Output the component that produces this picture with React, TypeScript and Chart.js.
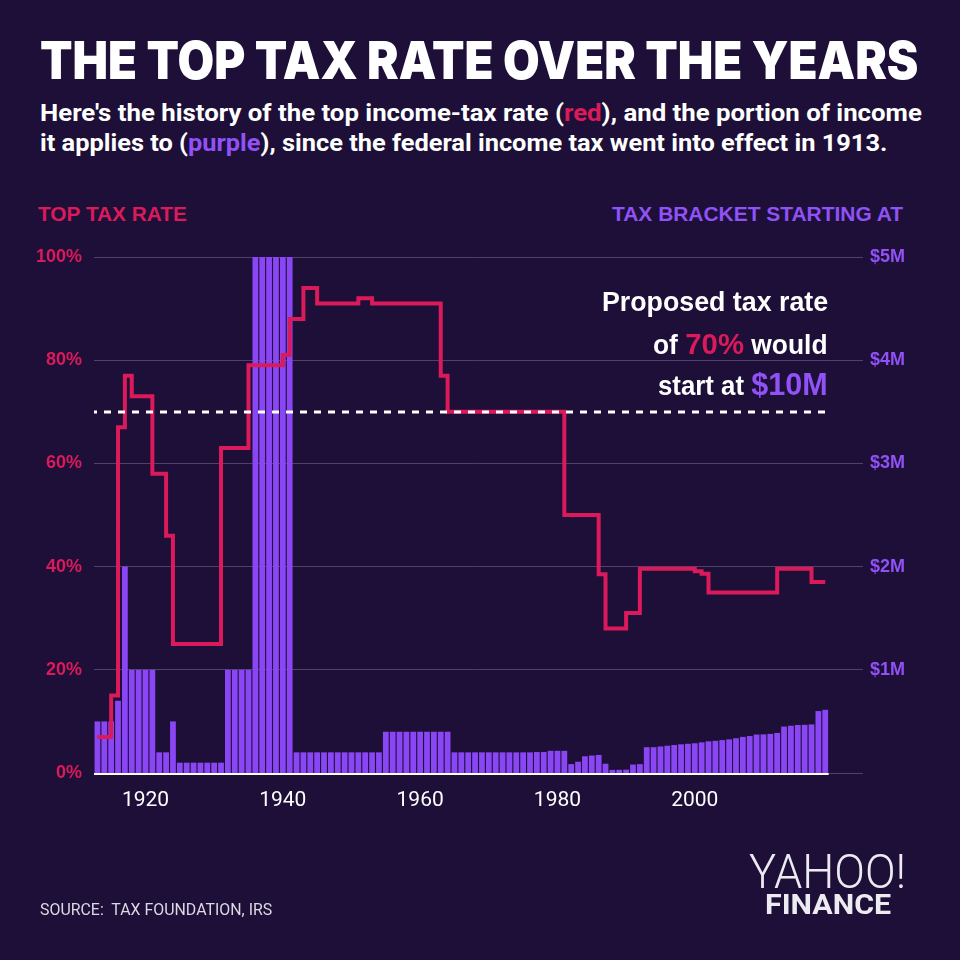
import React, { useEffect, useLayoutEffect, useRef, useState } from 'react';
import { Chart, registerables } from 'chart.js';

Chart.register(...registerables);

// ---------- data ----------
const FIRST_YEAR = 1913;
const AXIS_LAST_YEAR = 2024; // empty room to the right of the last bar

// top marginal income-tax rate, %, 1913 ... 2019
const TOP_RATE = [
  7, 7, 7, 15, 67, 77, 73, 73, 73, 58, // 1913-1922
  58, 46, 25, 25, 25, 25, 25, 25, 25, 63, // 1923-1932
  63, 63, 63, 79, 79, 79, 79, 79, 81, 88, // 1933-1942
  88, 94, 94, 91, 91, 91, 91, 91, 91, 92, // 1943-1952
  92, 91, 91, 91, 91, 91, 91, 91, 91, 91, // 1953-1962
  91, 77, 70, 70, 70, 70, 70, 70, 70, 70, // 1963-1972
  70, 70, 70, 70, 70, 70, 70, 70, 70, 50, // 1973-1982
  50, 50, 50, 50, 38.5, 28, 28, 28, 31, 31, // 1983-1992
  39.6, 39.6, 39.6, 39.6, 39.6, 39.6, 39.6, 39.6, 39.1, 38.6, // 1993-2002
  35, 35, 35, 35, 35, 35, 35, 35, 35, 35, // 2003-2012
  39.6, 39.6, 39.6, 39.6, 39.6, 37, 37, // 2013-2019
];

// income at which the top bracket starts, $ millions, 1913 ... 2019
const BRACKET_START = [
  0.5, 0.5, 0.5, 0.7, 2, 1, 1, 1, 1, 0.2, // 1913-1922
  0.2, 0.5, 0.1, 0.1, 0.1, 0.1, 0.1, 0.1, 0.1, 1, // 1923-1932
  1, 1, 1, 5, 5, 5, 5, 5, 5, 0.2, // 1933-1942
  0.2, 0.2, 0.2, 0.2, 0.2, 0.2, 0.2, 0.2, 0.2, 0.2, // 1943-1952
  0.2, 0.2, 0.4, 0.4, 0.4, 0.4, 0.4, 0.4, 0.4, 0.4, // 1953-1962
  0.4, 0.4, 0.2, 0.2, 0.2, 0.2, 0.2, 0.2, 0.2, 0.2, // 1963-1972
  0.2, 0.2, 0.2, 0.2, 0.203, 0.203, 0.215, 0.215, 0.215, 0.086, // 1973-1982
  0.109, 0.162, 0.169, 0.175, 0.09, 0.03, 0.031, 0.032, 0.082, 0.086, // 1983-1992
  0.25, 0.25, 0.257, 0.264, 0.271, 0.278, 0.283, 0.288, 0.297, 0.307, // 1993-2002
  0.312, 0.319, 0.326, 0.337, 0.35, 0.358, 0.373, 0.374, 0.379, 0.388, // 2003-2012
  0.45, 0.458, 0.465, 0.467, 0.471, 0.6, 0.612, // 2013-2019
];

const YEAR_TICKS = [1920, 1940, 1960, 1980, 2000];
const RATE_MAX = 100;
const RATE_STEP = 20;
const BRACKET_MAX = 5;
const BRACKET_STEP = 1;
const PROPOSED_RATE = 70;

const YEARS: string[] = [];
for (let y = FIRST_YEAR; y <= AXIS_LAST_YEAR; y++) YEARS.push(String(y));

// ---------- style ----------
const BG = '#1d0f37';
const RED = '#db1a5b';
const PURPLE = '#8a46f5';
const PURPLE_TEXT = '#9052f7';
const GRID = '#4f4168';
const WHITE = '#ffffff';

const PAGE = 960;
const PLOT_LEFT = 94;
const PLOT_RIGHT = 863;
const PLOT_TOP = 257;
const PLOT_BOTTOM = 773;

const overlayPlugin = {
  id: 'overlay',
  afterDatasetsDraw(chart: any) {
    const { ctx, scales } = chart;
    const x = scales.x;
    const y = scales.y;
    const half = (x.getPixelForValue(1) - x.getPixelForValue(0)) / 2;
    const left = x.getPixelForValue(0) - half;
    const right = x.getPixelForValue(BRACKET_START.length - 1) + half;
    ctx.save();
    // baseline under the bars
    ctx.strokeStyle = WHITE;
    ctx.lineWidth = 2;
    ctx.beginPath();
    ctx.moveTo(left, y.getPixelForValue(0) + 1);
    ctx.lineTo(right, y.getPixelForValue(0) + 1);
    ctx.stroke();
    // proposed-rate dashed line
    const yy = Math.round(y.getPixelForValue(PROPOSED_RATE));
    ctx.setLineDash([7, 7]);
    ctx.lineDashOffset = 4;
    ctx.lineWidth = 3;
    ctx.beginPath();
    ctx.moveTo(left, yy);
    ctx.lineTo(right, yy);
    ctx.stroke();
    ctx.restore();
  },
};

function ChartCanvas() {
  const ref = useRef<HTMLCanvasElement>(null);
  useEffect(() => {
    if (!ref.current) return;
    const chart = new Chart(ref.current, {
      type: 'bar',
      data: {
        labels: YEARS,
        datasets: [
          {
            type: 'line',
            label: 'Top tax rate',
            data: TOP_RATE,
            yAxisID: 'y',
            borderColor: RED,
            borderWidth: 4,
            stepped: 'after',
            pointRadius: 0,
            fill: false,
            borderJoinStyle: 'miter',
            borderCapStyle: 'butt',
            order: 1,
          } as any,
          {
            type: 'bar',
            label: 'Tax bracket starting at',
            data: BRACKET_START,
            yAxisID: 'y1',
            backgroundColor: PURPLE,
            categoryPercentage: 1,
            barPercentage: 0.84,
            order: 2,
          } as any,
        ],
      },
      options: {
        responsive: false,
        maintainAspectRatio: false,
        animation: false,
        layout: { padding: { top: PLOT_TOP, left: 0, right: 0, bottom: 0 } },
        plugins: { legend: { display: false }, tooltip: { enabled: false } },
        scales: {
          x: {
            grid: { display: false },
            border: { display: false },
            ticks: {
              autoSkip: false,
              maxRotation: 0,
              color: WHITE,
              padding: 7,
              font: { family: 'Roboto', size: 21, weight: 400 },
              callback: (_v: any, i: number) =>
                YEAR_TICKS.includes(Number(YEARS[i])) ? YEARS[i] : '',
            },
            afterFit: (s: any) => {
              s.height = PAGE - PLOT_BOTTOM;
            },
          },
          y: {
            position: 'left',
            min: 0,
            max: RATE_MAX,
            ticks: {
              stepSize: RATE_STEP,
              color: RED,
              padding: 12,
              font: { family: 'Liberation Sans', size: 18, weight: 'bold' },
              callback: (v: any) => `${v}%`,
            },
            grid: { color: GRID, lineWidth: 1, drawTicks: false },
            border: { display: false },
            afterFit: (s: any) => {
              s.width = PLOT_LEFT;
            },
          },
          y1: {
            position: 'right',
            min: 0,
            max: BRACKET_MAX,
            ticks: {
              stepSize: BRACKET_STEP,
              color: PURPLE_TEXT,
              padding: 7,
              font: { family: 'Liberation Sans', size: 18, weight: 'bold' },
              callback: (v: any) => (Number(v) === 0 ? '' : `$${v}M`),
            },
            grid: { display: false, drawTicks: false },
            border: { display: false },
            afterFit: (s: any) => {
              s.width = PAGE - PLOT_RIGHT;
            },
          },
        },
      } as any,
      plugins: [overlayPlugin],
    });
    return () => chart.destroy();
  }, []);
  return (
    <canvas
      ref={ref}
      width={PAGE}
      height={PAGE}
      style={{ position: 'absolute', left: 0, top: 0, width: PAGE, height: PAGE }}
    />
  );
}

// text that is horizontally fitted to a target width
function FitText(props: {
  x: number;
  baseline: number;
  width: number;
  size: number;
  asc: number; // baseline offset factor for line-height 1
  align?: 'left' | 'right';
  style?: React.CSSProperties;
  children: React.ReactNode;
}) {
  const ref = useRef<HTMLDivElement>(null);
  const [scale, setScale] = useState(1);
  useLayoutEffect(() => {
    const measure = () => {
      const el = ref.current;
      if (!el) return;
      const w = el.offsetWidth;
      if (w > 0) setScale(props.width / w);
    };
    measure();
    if ((document as any).fonts && (document as any).fonts.ready) {
      (document as any).fonts.ready.then(measure);
    }
  }, []);
  const align = props.align || 'left';
  const top = props.baseline - props.asc * props.size;
  const pos: React.CSSProperties =
    align === 'left' ? { left: props.x } : { right: PAGE - props.x };
  return (
    <div
      ref={ref}
      style={{
        position: 'absolute',
        top,
        ...pos,
        whiteSpace: 'nowrap',
        fontSize: props.size,
        lineHeight: 1,
        transform: `scaleX(${scale})`,
        transformOrigin: align === 'left' ? 'left top' : 'right top',
        ...props.style,
      }}
    >
      {props.children}
    </div>
  );
}

const ROBOTO = 0.842;
const LIB = 0.847;
const INTER = 0.863;

export default function App() {
  return (
    <div
      style={{
        position: 'absolute',
        left: 0,
        top: 0,
        width: PAGE,
        height: PAGE,
        background: BG,
        overflow: 'hidden',
        color: WHITE,
      }}
    >
      <FitText x={40} baseline={80} width={878} size={52} asc={INTER}
        style={{ fontFamily: 'Inter', fontWeight: 900, color: WHITE }}>
        THE TOP TAX RATE OVER THE YEARS
      </FitText>
      <FitText x={40} baseline={121} width={882} size={24} asc={ROBOTO}
        style={{ fontFamily: 'Roboto', fontWeight: 700, color: WHITE }}>
        Here's the history of the top income-tax rate (<span style={{ color: RED }}>red</span>), and the portion of income
      </FitText>
      <FitText x={40} baseline={151} width={847} size={24} asc={ROBOTO}
        style={{ fontFamily: 'Roboto', fontWeight: 700, color: WHITE }}>
        it applies to (<span style={{ color: PURPLE_TEXT }}>purple</span>), since the federal income tax went into effect in 1913.
      </FitText>

      <FitText x={38} baseline={221} width={149} size={20} asc={LIB}
        style={{ fontFamily: 'Liberation Sans', fontWeight: 700, color: RED }}>
        TOP TAX RATE
      </FitText>
      <FitText x={903} baseline={221} width={291} size={20} asc={LIB} align="right"
        style={{ fontFamily: 'Liberation Sans', fontWeight: 700, color: PURPLE_TEXT }}>
        TAX BRACKET STARTING AT
      </FitText>

      <ChartCanvas />

      <FitText x={828} baseline={312} width={226} size={27} asc={LIB} align="right"
        style={{ fontFamily: 'Liberation Sans', fontWeight: 700, color: WHITE }}>
        Proposed tax rate
      </FitText>
      <FitText x={828} baseline={352} width={175} size={27} asc={LIB} align="right"
        style={{ fontFamily: 'Liberation Sans', fontWeight: 700, color: WHITE }}>
        of <span style={{ color: RED, fontSize: 30 }}>70%</span> would
      </FitText>
      <FitText x={828} baseline={391} width={170} size={27} asc={LIB} align="right"
        style={{ fontFamily: 'Liberation Sans', fontWeight: 700, color: WHITE }}>
        start at <span style={{ color: PURPLE_TEXT, fontSize: 32 }}>$10M</span>
      </FitText>

      <FitText x={40} baseline={915} width={232} size={17} asc={ROBOTO}
        style={{ fontFamily: 'Roboto', fontWeight: 400, color: '#dcd8e4' }}>
        SOURCE:&nbsp; TAX FOUNDATION, IRS
      </FitText>
      <FitText x={749} baseline={888} width={157} size={49} asc={ROBOTO}
        style={{ fontFamily: 'Roboto', fontWeight: 300, color: '#ecebf1' }}>
        YAHOO!
      </FitText>
      <FitText x={765} baseline={915} width={126} size={28} asc={ROBOTO}
        style={{ fontFamily: 'Roboto', fontWeight: 700, color: '#ecebf1' }}>
        FINANCE
      </FitText>
    </div>
  );
}
